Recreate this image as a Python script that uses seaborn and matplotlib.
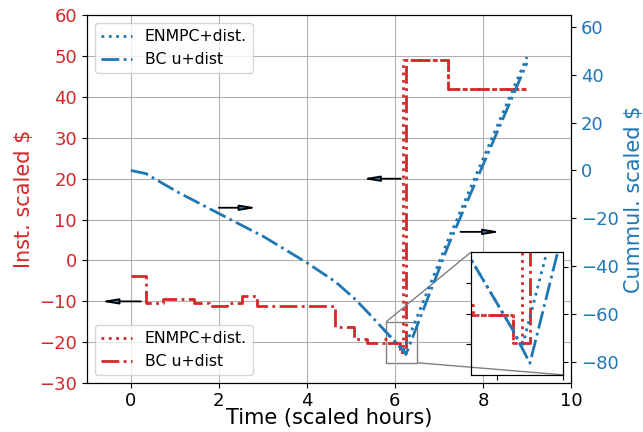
import matplotlib
matplotlib.use("Agg")
import matplotlib.pyplot as plt
import seaborn as sns
from mpl_toolkits.axes_grid1.inset_locator import mark_inset

# instantaneous cost (left axis), step values
bc_inst_t = [0, 0.34, 0.72, 1.44, 1.78, 2.19, 2.53, 2.87, 4.65, 5.07, 5.37, 6.12, 6.25, 7.21, 9.0]
bc_inst_v = [-3.7, -10.4, -9.5, -10.4, -11.1, -10.4, -8.8, -11.1, -16.2, -19.1, -20.1, -22.4, 49.0, 42.0, 42.0]
en_inst_t = [5.75, 5.82, 6.12, 6.19, 7.21, 9.0]
en_inst_v = [-19.3, -20.1, -22.4, 49.0, 42.0, 42.0]

# cumulative cost (right axis)
bc_cum_t = [0, 0.34, 1.06, 2.0, 3.03, 4.0, 4.65, 5.07, 5.37, 5.8, 6.12, 6.25, 7.21, 9.0]
bc_cum_v = [0, -1.3, -9.0, -18.0, -27.8, -38.6, -46.6, -53.4, -59.1, -67.6, -74.0, -77.0, -31.5, 45.0]
en_cum_t = [5.75, 6.12, 6.19, 7.21, 9.0]
en_cum_v = [-66.6, -74.0, -75.6, -29.0, 47.5]

red = "tab:red"
blue = "tab:blue"

fig, ax = plt.subplots(figsize=(6.43, 4.32), dpi=100)
fig.subplots_adjust(left=0.135, right=0.888, top=0.965, bottom=0.113)
ax2 = ax.twinx()


def draw_inst(a):
    sns.lineplot(x=en_inst_t, y=en_inst_v, ax=a, color=red, linestyle=":", lw=2,
                 drawstyle="steps-post", estimator=None, sort=False, label="ENMPC+dist.")
    sns.lineplot(x=bc_inst_t, y=bc_inst_v, ax=a, color=red, linestyle="-.", lw=2,
                 drawstyle="steps-post", estimator=None, sort=False, label="BC u+dist")


def draw_cum(a):
    sns.lineplot(x=en_cum_t, y=en_cum_v, ax=a, color=blue, linestyle=":", lw=2,
                 estimator=None, sort=False, label="ENMPC+dist.")
    sns.lineplot(x=bc_cum_t, y=bc_cum_v, ax=a, color=blue, linestyle="-.", lw=2,
                 estimator=None, sort=False, label="BC u+dist")


draw_inst(ax)
draw_cum(ax2)

ax.set_xlim(-1, 10)
ax.set_ylim(-30, 60)
ax2.set_ylim(-89, 65)
ax.grid(True)
ax.set_xlabel("Time (scaled hours)", fontsize=15, labelpad=-1)
ax.set_ylabel("Inst. scaled $", fontsize=15, color=red)
ax2.set_ylabel("Cummul. scaled $", fontsize=15, color=blue)
ax.tick_params(axis="x", labelsize=13, pad=2.5)
ax.tick_params(axis="y", labelsize=13, labelcolor=red)
ax2.tick_params(axis="y", labelsize=13, labelcolor=blue)

ax.legend(loc="lower left", fontsize=11.3)
ax2.legend(loc="upper left", fontsize=11.3)

# arrows telling which axis a curve belongs to
arrow = dict(arrowstyle="-|>,head_length=0.95,head_width=0.16", fc=blue, ec="k",
             lw=1.3, shrinkA=0, shrinkB=0)
ax.annotate("", xy=(-0.68, -10), xytext=(0.23, -10), arrowprops=arrow)
ax.annotate("", xy=(2.87, 12.9), xytext=(2.0, 12.9), arrowprops=arrow)
ax.annotate("", xy=(5.26, 20), xytext=(6.13, 20), arrowprops=arrow)
ax.annotate("", xy=(8.4, 7.0), xytext=(7.49, 7.0), arrowprops=arrow)

# zoomed inset around the minimum
axins = ax.inset_axes([0.793, 0.0226, 0.19, 0.333])
draw_inst(axins)
axins.set_xlim(5.8, 6.5)
axins.set_ylim(-25, -15)
axins.set_xticks([6.0, 6.5])
axins.set_yticks([-22.5, -20, -17.5])
axins.set_xticklabels([])
axins.set_yticklabels([])
axins.set_xlabel("")
axins.get_legend().remove()
axins2 = axins.twinx()
draw_cum(axins2)
axins2.set_ylim(-78.05, -67.0)
axins2.set_yticks([-76.9, -72.6, -68.3])
axins2.set_yticklabels([])
axins2.get_legend().remove()
mark_inset(ax, axins, loc1=2, loc2=4, fc="none", ec="0.5")

fig.savefig("out.png", dpi=100)
